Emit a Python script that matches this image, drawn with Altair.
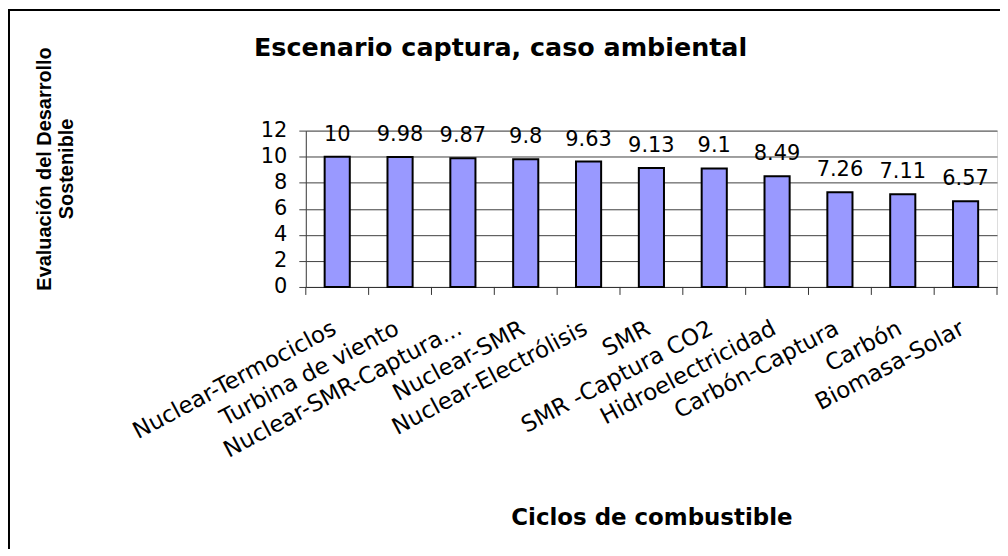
import altair as alt
import pandas as pd

categorias = [
    "Nuclear-Termociclos",
    "Turbina de viento",
    "Nuclear-SMR-Captura...",
    "Nuclear-SMR",
    "Nuclear-Electrólisis",
    "SMR",
    "SMR -Captura CO2",
    "Hidroelectricidad",
    "Carbón-Captura",
    "Carbón",
    "Biomasa-Solar",
]
valores = [10, 9.98, 9.87, 9.8, 9.63, 9.13, 9.1, 8.49, 7.26, 7.11, 6.57]
y_ticks = [0, 2, 4, 6, 8, 10, 12]

titulo = "Escenario captura, caso ambiental"
titulo_x = "Ciclos de combustible"
titulo_y = ["Evaluación del Desarrollo", "Sostenible"]

df = pd.DataFrame({"ciclo": categorias, "valor": valores})
one = pd.DataFrame({"k": [0]})

W, H = 694, 157
STEP = W / len(categorias)
PAD_L, PAD_T = 299, 122

xscale = alt.Scale(domain=categorias, paddingInner=0.6, paddingOuter=0.3)
yscale = alt.Scale(domain=[0, 12], nice=False)

x_axis = alt.Axis(
    title=titulo_x,
    labelAngle=-28,
    labelAlign="right",
    labelBaseline="top",
    labelPadding=30,
    labelOffset=-8,
    labelOverlap=False,
    labelLimit=400,
    ticks=False,
    domainColor="#333333",
    domainWidth=1,
    labelFont="DejaVu Sans",
    labelFontSize=23,
    labelColor="black",
    titleFont="DejaVu Sans",
    titleFontSize=23,
    titleFontWeight="bold",
    titleColor="black",
    titleY=238,
    titleBaseline="alphabetic",
    titleAnchor="middle",
)

y_axis = alt.Axis(
    values=y_ticks,
    title=titulo_y,
    grid=True,
    gridColor="#404040",
    gridWidth=1,
    domainColor="#404040",
    tickColor="#404040",
    tickSize=7,
    labelPadding=12,
    labelOverlap=False,
    labelFont="DejaVu Sans",
    labelFontSize=21,
    labelColor="black",
    titleFont="Liberation Sans",
    titleFontSize=20,
    titleFontWeight="bold",
    titleColor="black",
    titleAngle=270,
    titleAlign="center",
    titleBaseline="middle",
    titleLineHeight=22,
    titleX=-262,
    titleY=38,
)

X = alt.X("ciclo:N", scale=xscale, sort=categorias, axis=x_axis)
Y = alt.Y("valor:Q", scale=yscale, axis=y_axis)

base = alt.Chart(df)

bars = base.mark_bar(fill="#9999FF", stroke="black", strokeWidth=2).encode(x=X, y=Y)

labels = base.mark_text(
    font="DejaVu Sans", fontSize=21, baseline="middle", dy=-22, color="black"
).encode(x=X, y=Y, text=alt.Text("valor:Q"))

xticks = base.mark_rule(xOffset=-STEP * 0.3, color="#333333", strokeWidth=1).encode(
    x=alt.X("ciclo:N", scale=xscale, sort=categorias, bandPosition=0, axis=x_axis),
    y=alt.value(H),
    y2=alt.value(H + 8),
)

xtick_end = alt.Chart(one).mark_rule(color="#333333", strokeWidth=1).encode(
    x=alt.value(W), y=alt.value(H), y2=alt.value(H + 8)
)

frame_left = alt.Chart(one).mark_rule(color="black", strokeWidth=2).encode(
    x=alt.value(-PAD_L + 1), y=alt.value(-PAD_T + 1), y2=alt.value(H + 500)
)
frame_top = alt.Chart(one).mark_rule(color="black", strokeWidth=2).encode(
    x=alt.value(-PAD_L), x2=alt.value(W + 100), y=alt.value(-PAD_T + 1)
)

chart = (
    alt.layer(bars, labels, xticks, xtick_end, frame_left, frame_top)
    .properties(
        width=W,
        height=H,
        autosize=alt.AutoSizeParams(type="none"),
        padding={"left": PAD_L, "top": PAD_T, "right": 3, "bottom": 262},
        title=alt.TitleParams(
            titulo,
            anchor="start",
            frame="group",
            dx=-52,
            dy=57,
            font="DejaVu Sans",
            fontSize=25.5,
            fontWeight="bold",
            color="black",
        ),
    )
    .configure_view(stroke="#888888", fill="#C0C0C0", strokeWidth=1)
    .configure(background="white")
)

chart.save("out.html", embed_options={"renderer": "svg", "actions": False})
